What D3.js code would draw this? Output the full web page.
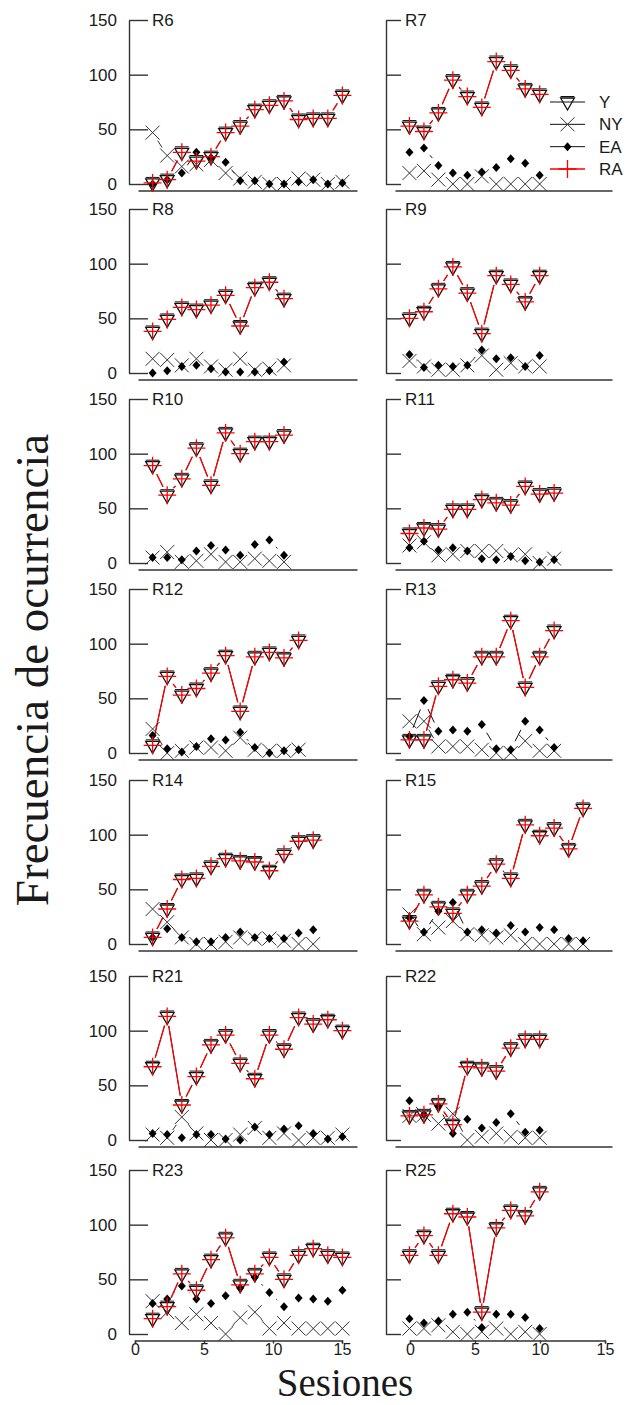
<!DOCTYPE html>
<meta charset="utf-8">
<html>
<head>
<style>
  body { margin: 0; background: #fff; }
  svg text { font-family: "Liberation Sans", Arial, sans-serif; fill: #1a1a1a; }
  .title { font-family: "Liberation Serif", "Times New Roman", serif; }
</style>
</head>
<body>
<div id="chart"></div>
<script src="https://d3js.org/d3.v7.min.js"></script>
<script>

// panels, row by row (left, right)
var panels = ["R6","R7","R8","R9","R10","R11","R12","R13","R14","R15","R21","R22","R23","R25"];

// series per panel, session 1..n. Y has the same values as RA (drawn on top of each other)
var R6_RA  = [1, 4, 29, 21, 25, 47, 53, 68, 72, 76, 59, 60, 60, 81];
var R6_EA  = [0, 4, 10, 29, 24, 20, 3, 3, 0, 0, 2, 4, 0, 1];
var R6_NY  = [47, 26, 16, 18, 22, 10, 5, 2, 0, 0, 5, 4, 0, 2];

var R7_RA  = [53, 48, 65, 95, 80, 70, 112, 104, 87, 82];
var R7_EA  = [29, 33, 17, 10, 8, 11, 15, 23, 19, 8];
var R7_NY  = [10, 12, 4, 0, 0, 7, 0, 0, 0, 0];

var R8_RA  = [38, 49, 60, 58, 62, 71, 43, 78, 83, 68];
var R8_EA  = [0, 2, 6, 7, 4, 1, 1, 1, 2, 10];
var R8_NY  = [13, 12, 7, 13, 6, 3, 13, 3, 4, 7];

var R9_RA  = [50, 56, 77, 97, 73, 36, 89, 81, 65, 89];
var R9_EA  = [17, 5, 7, 6, 7, 21, 13, 14, 6, 16];
var R9_NY  = [11, 6, 3, 3, 7, 16, 3, 9, 6, 6];

var R10_RA = [89, 62, 77, 105, 71, 119, 100, 111, 111, 117];
var R10_EA = [5, 5, 3, 11, 16, 12, 7, 17, 21, 7];
var R10_NY = [5, 10, 1, 2, 8, 1, 1, 4, 2, 1];

var R11_RA = [27, 32, 31, 49, 49, 58, 55, 53, 70, 63, 64];
var R11_EA = [14, 20, 12, 14, 11, 4, 3, 6, 2, 1, 3];
var R11_NY = [16, 19, 7, 8, 11, 11, 11, 7, 8, 0, 4];

var R12_RA = [7, 70, 53, 59, 73, 89, 38, 88, 92, 87, 103];
var R12_EA = [16, 4, 1, 6, 13, 12, 19, 5, 0, 2, 3];
var R12_NY = [22, 0, 2, 5, 5, 2, 14, 3, 2, 2, 3];

var R13_RA = [12, 12, 61, 67, 64, 88, 88, 121, 60, 88, 112];
var R13_EA = [15, 48, 20, 21, 20, 26, 4, 3, 29, 21, 5];
var R13_NY = [29, 29, 6, 6, 6, 3, 0, 0, 11, 2, 2];

var R14_RA = [6, 32, 59, 60, 71, 78, 76, 75, 67, 82, 94, 95];
var R14_EA = [6, 14, 6, 2, 2, 6, 11, 6, 5, 5, 10, 13];
var R14_NY = [32, 20, 6, 0, 0, 2, 6, 5, 5, 3, 0, 0];

var R15_RA = [21, 45, 34, 28, 45, 53, 73, 60, 109, 99, 106, 87, 124];
var R15_EA = [24, 11, 30, 38, 11, 13, 10, 17, 11, 15, 13, 5, 3];
var R15_NY = [27, 9, 15, 21, 9, 8, 6, 8, 0, 0, 0, 0, 0];

var R21_RA = [67, 113, 32, 58, 87, 96, 70, 56, 96, 83, 112, 106, 110, 100];
var R21_EA = [6, 5, 2, 5, 5, 1, 0, 12, 5, 10, 13, 6, 1, 3];
var R21_NY = [5, 2, 21, 6, 0, 0, 5, 11, 2, 6, 0, 2, 2, 5];

var R22_RA = [22, 23, 33, 14, 67, 66, 63, 84, 92, 92];
var R22_EA = [36, 23, 31, 6, 19, 11, 16, 24, 7, 9];
var R22_NY = [22, 23, 15, 24, 0, 3, 6, 3, 2, 2];

var R23_RA = [14, 25, 55, 40, 68, 88, 45, 55, 70, 50, 72, 78, 72, 70];
var R23_EA = [28, 32, 44, 32, 28, 35, 42, 52, 38, 25, 33, 32, 30, 40];
var R23_NY = [30, 20, 10, 18, 10, 0, 15, 20, 5, 10, 5, 5, 5, 5];

var R25_RA = [72, 90, 72, 110, 107, 20, 97, 113, 108, 130];
var R25_EA = [14, 10, 12, 18, 20, 6, 18, 18, 15, 5];
var R25_NY = [5, 5, 8, 2, 0, 2, 5, 0, 2, 0];

var yTicks = [0, 50, 100, 150];
var xTicks = [0, 5, 10, 15];
var legendLabels = ["Y", "NY", "EA", "RA"];

var seriesRA = [R6_RA, R7_RA, R8_RA, R9_RA, R10_RA, R11_RA, R12_RA, R13_RA, R14_RA, R15_RA, R21_RA, R22_RA, R23_RA, R25_RA];
var seriesEA = [R6_EA, R7_EA, R8_EA, R9_EA, R10_EA, R11_EA, R12_EA, R13_EA, R14_EA, R15_EA, R21_EA, R22_EA, R23_EA, R25_EA];
var seriesNY = [R6_NY, R7_NY, R8_NY, R9_NY, R10_NY, R11_NY, R12_NY, R13_NY, R14_NY, R15_NY, R21_NY, R22_NY, R23_NY, R25_NY];

var width = 631, height = 1405;

// layout: columns (where x=0 and x=15 fall), rows (where y=150 falls)
// the bottom axis of the figure was pasted on with its own spacing (ax0/ax15)
var cols = [{x0: 138, x15: 357, axisX: 129, tick: 19, ax0: 135, ax15: 342},
            {x0: 395, x15: 612, axisX: 386, tick: 15, ax0: 410, ax15: 605}];
var rowTop = [20, 209, 399, 589, 780, 976, 1170];
var plotH = 164;
var gap = 9.5;   // gap left around the points by the connecting lines

var svg = d3.select("#chart")
  .append("svg")
    .attr("width", width)
    .attr("height", height);

function triangle(g, cx, cy) {
  var t = 4, a = 8, hw = 6.9;
  g.append("path")
    .attr("d", "M" + (cx - hw) + "," + (cy - t) + "H" + (cx + hw) + "L" + cx + "," + (cy + a) + "Z")
    .attr("fill", "none").attr("stroke", "#111").attr("stroke-width", 1.3);
  g.append("line")
    .attr("x1", cx - hw).attr("x2", cx + hw)
    .attr("y1", cy - t - 1.5).attr("y2", cy - t - 1.5)
    .attr("stroke", "#111").attr("stroke-width", 1);
}
function cross(g, cx, cy) {
  var r = 7;
  g.append("path")
    .attr("d", "M" + (cx - r) + "," + (cy - r) + "L" + (cx + r) + "," + (cy + r) +
               "M" + (cx - r) + "," + (cy + r) + "L" + (cx + r) + "," + (cy - r))
    .attr("stroke", "#333").attr("stroke-width", 1).attr("fill", "none");
}
function diamond(g, cx, cy) {
  var w = 4, h = 4.5;
  g.append("path")
    .attr("d", "M" + cx + "," + (cy - h) + "L" + (cx + w) + "," + cy + "L" + cx + "," + (cy + h) + "L" + (cx - w) + "," + cy + "Z")
    .attr("fill", "#000");
}
function plus(g, cx, cy) {
  var r = 9;
  g.append("path")
    .attr("d", "M" + (cx - r) + "," + cy + "H" + (cx + r) + "M" + cx + "," + (cy - r) + "V" + (cy + r))
    .attr("stroke", "#ff0000").attr("stroke-width", 1.3).attr("fill", "none");
}

// lines like R type="b": segments cut short around each point
function gappedLine(g, pts, color, w) {
  for (var i = 1; i < pts.length; i++) {
    var p = pts[i - 1], q = pts[i];
    var dx = q[0] - p[0], dy = q[1] - p[1];
    var d = Math.sqrt(dx * dx + dy * dy);
    if (d <= 2 * gap) continue;
    var ux = dx / d, uy = dy / d;
    g.append("line")
      .attr("x1", p[0] + ux * gap).attr("y1", p[1] + uy * gap)
      .attr("x2", q[0] - ux * gap).attr("y2", q[1] - uy * gap)
      .attr("stroke", color).attr("stroke-width", w);
  }
}

panels.forEach(function(name, i) {
  var c = cols[i % 2];
  var row = Math.floor(i / 2);
  var top = rowTop[row];
  var lastRow = row === rowTop.length - 1;
  var x = d3.scaleLinear().domain([0, 15]).range([c.x0, c.x15]);
  var y = d3.scaleLinear().domain([0, 150]).range([top + plotH, top]);
  var g = svg.append("g");

  // y axis (ticks point inward)
  var ya = d3.axisLeft(y).tickValues(yTicks).tickSizeInner(-c.tick).tickSizeOuter(0).tickPadding(12);
  if (i % 2 === 1) ya.tickFormat("");
  var yg = g.append("g").attr("transform", "translate(" + c.axisX + ",0)").call(ya);
  yg.selectAll("text").style("font-size", "17px").attr("fill", "#1a1a1a");
  yg.selectAll("path, line").attr("stroke", "#333").attr("stroke-width", 1.4);

  // x axis at the bottom of the plot region
  var bottom = y(0) + 0.04 * plotH;
  var xa;
  if (lastRow) {
    var xb = d3.scaleLinear().domain([0, 15]).range([c.ax0, c.ax15]);
    xa = d3.axisBottom(xb).tickValues(xTicks).tickSizeOuter(0).tickSize(3).tickPadding(0);
  } else {
    xa = d3.axisBottom(x).tickValues(xTicks).tickSizeOuter(0).tickSize(0).tickFormat("");
  }
  var xg = g.append("g").attr("transform", "translate(0," + bottom + ")").call(xa);
  xg.selectAll("text").style("font-size", "16px").attr("fill", "#1a1a1a");
  xg.selectAll("path, line").attr("stroke", "#333").attr("stroke-width", 1.4);

  g.append("text")
    .attr("x", c.axisX + c.tick + 4)
    .attr("y", y(150) + 6)
    .style("font-size", "17px")
    .text(name);

  var ra = seriesRA[i], ea = seriesEA[i], ny = seriesNY[i];
  var pRA = ra.map(function(v, k) { return [x(k + 1), y(v)]; });
  var pEA = ea.map(function(v, k) { return [x(k + 1), y(v)]; });
  var pNY = ny.map(function(v, k) { return [x(k + 1), y(v)]; });

  gappedLine(g, pRA, "#111", 1);
  gappedLine(g, pNY, "#333", 1);
  gappedLine(g, pEA, "#111", 1);
  gappedLine(g, pRA, "#ff0000", 1.3);

  pRA.forEach(function(p) { triangle(g, p[0], p[1]); });
  pNY.forEach(function(p) { cross(g, p[0], p[1]); });
  pEA.forEach(function(p) { diamond(g, p[0], p[1]); });
  pRA.forEach(function(p) { plus(g, p[0], p[1]); });
});

// legend inside R7
var leg = svg.append("g");
var legY = d3.scaleLinear().domain([0, 3]).range([102, 169]);
var legMarks = [triangle, cross, diamond, plus];
legendLabels.forEach(function(lab, k) {
  var yy = legY(k);
  var col = k === 3 ? "#ff0000" : "#111";
  leg.append("line").attr("x1", 550).attr("x2", 585).attr("y1", yy).attr("y2", yy)
    .attr("stroke", col).attr("stroke-width", k === 3 ? 1.3 : 1);
  legMarks[k](leg, 567.5, yy);
  leg.append("text").attr("x", 599).attr("y", yy + 6).style("font-size", "17px").text(lab);
});

// axis titles
svg.append("text")
  .attr("class", "title")
  .attr("transform", "translate(48,670) rotate(-90)")
  .attr("text-anchor", "middle")
  .style("font-size", "47px")
  .text("Frecuencia de ocurrencia");

svg.append("text")
  .attr("class", "title")
  .attr("x", 345)
  .attr("y", 1396.3)
  .attr("text-anchor", "middle")
  .style("font-size", "39px")
  .text("Sesiones");

</script>
</body>
</html>
